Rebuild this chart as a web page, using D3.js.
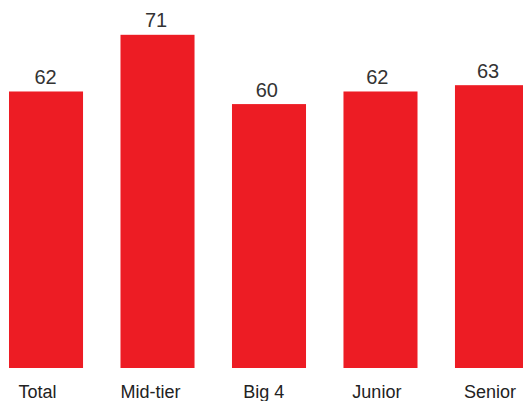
<!DOCTYPE html>
<html>
<head>
<meta charset="utf-8">
<script src="https://cdn.jsdelivr.net/npm/d3@7"></script>
<style>
  html, body { margin: 0; padding: 0; background: #fff; }
  svg { display: block; }
</style>
</head>
<body>
<svg id="chart" width="523" height="401"></svg>
<script>
const categories = ["Total", "Mid-tier", "Big 4", "Junior", "Senior"];
const values = [62, 71, 60, 62, 63];

const W = 523, H = 401;
const svg = d3.select("#chart");

const x = d3.scaleBand().domain(categories).range([9, 529]).paddingInner(0.336).paddingOuter(0);
const y = d3.scaleLinear().domain([18.1, 71]).range([368, 34.8]);
const xValueLabel = d3.scalePoint().domain(categories).range([45.5, 488]);
const xCatLabel = d3.scalePoint().domain(categories).range([37.5, 490]);

const data = categories.map((c, i) => ({ c, v: values[i] }));

svg.selectAll("rect.bar").data(data).join("rect")
  .attr("class", "bar")
  .attr("x", d => x(d.c))
  .attr("width", x.bandwidth())
  .attr("y", d => y(d.v))
  .attr("height", d => y.range()[0] - y(d.v))
  .attr("fill", "#ED1C24");

svg.selectAll("text.val").data(data).join("text")
  .attr("class", "val")
  .attr("x", d => xValueLabel(d.c))
  .attr("y", d => y(d.v) - 7.5)
  .attr("text-anchor", "middle")
  .attr("font-family", "Liberation Sans, Arial, sans-serif")
  .attr("font-size", 20)
  .attr("fill", "#333")
  .text(d => d.v);

svg.selectAll("text.cat").data(data).join("text")
  .attr("class", "cat")
  .attr("x", d => xCatLabel(d.c))
  .attr("y", 398)
  .attr("text-anchor", "middle")
  .attr("font-family", "Liberation Sans, Arial, sans-serif")
  .attr("font-size", 18)
  .attr("fill", "#222")
  .text(d => d.c);
</script>
</body>
</html>
